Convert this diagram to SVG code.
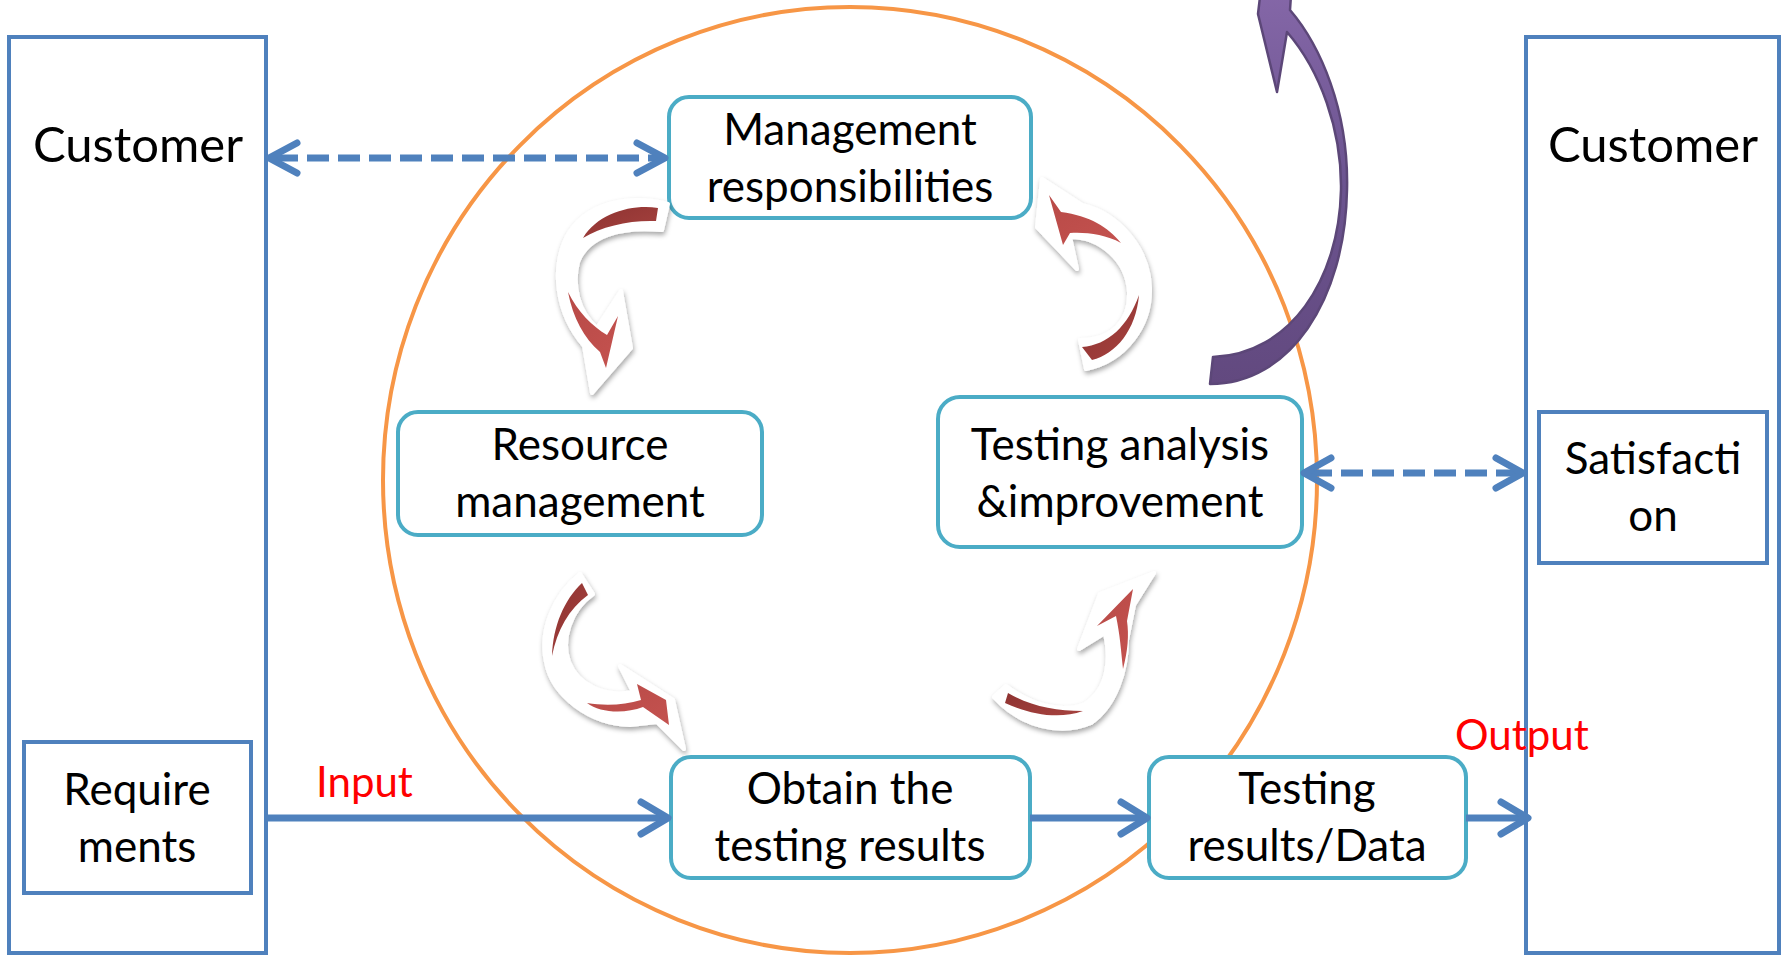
<svg xmlns="http://www.w3.org/2000/svg" width="1792" height="959" viewBox="0 0 1792 959">
  <defs>
    <style>
      .actor { fill: #ffffff; stroke: #4F81BD; stroke-width: 4; }
      .step { fill: #ffffff; stroke: #4BACC6; stroke-width: 4; }
      .lbl { font-family: Lato, "Liberation Sans", sans-serif; font-size: 44px; fill: #000000; text-anchor: middle; }
      .big { font-size: 49px; }
      .io { font-family: Lato, "Liberation Sans", sans-serif; font-size: 42px; fill: #FF0000; }
      .flow { fill: none; stroke: #4F81BD; stroke-width: 7; }
      .dash { stroke-dasharray: 22 9; }
      .head { fill: none; stroke: #4F81BD; stroke-width: 7; stroke-linecap: round; stroke-linejoin: round; }
      .swoosh { fill: #ffffff; stroke: #ffffff; stroke-width: 4; stroke-linejoin: round; filter: url(#soft); }
      .tail { fill: url(#redDark); }
      .tip { fill: url(#redLight); }
    </style>
    <filter id="soft" x="-30%" y="-30%" width="160%" height="160%">
      <feDropShadow dx="1" dy="3" stdDeviation="2.5" flood-color="#000000" flood-opacity="0.35"/>
    </filter>
    <linearGradient id="redDark" x1="0" y1="0" x2="1" y2="1">
      <stop offset="0" stop-color="#8E3331"/>
      <stop offset="1" stop-color="#A6423F"/>
    </linearGradient>
    <linearGradient id="redLight" x1="0" y1="0" x2="1" y2="1">
      <stop offset="0" stop-color="#B84A47"/>
      <stop offset="1" stop-color="#C4524F"/>
    </linearGradient>
    <linearGradient id="purple" x1="0" y1="0" x2="0" y2="1">
      <stop offset="0" stop-color="#8668A9"/>
      <stop offset="0.5" stop-color="#6C5490"/>
      <stop offset="1" stop-color="#62497F"/>
    </linearGradient>
  </defs>

  <rect width="1792" height="959" fill="#ffffff"/>

  <!-- outer process loop -->
  <ellipse id="loop" cx="850" cy="480" rx="467" ry="473" fill="none" stroke="#F79646" stroke-width="4"/>

  <!-- customer columns -->
  <g id="customer-left">
    <rect class="actor" x="9" y="37" width="257" height="916"/>
    <text class="lbl big" x="138" y="162">Customer</text>
  </g>
  <g id="requirements">
    <rect class="actor" x="24" y="742" width="227" height="151"/>
    <text class="lbl" x="137" y="805">Require</text>
    <text class="lbl" x="137" y="862">ments</text>
  </g>
  <g id="customer-right">
    <rect class="actor" x="1526" y="37" width="253" height="916"/>
    <text class="lbl big" x="1653" y="162">Customer</text>
  </g>
  <g id="satisfaction">
    <rect class="actor" x="1539" y="412" width="228" height="151"/>
    <text class="lbl" x="1653" y="474">Satisfacti</text>
    <text class="lbl" x="1653" y="531">on</text>
  </g>

  <!-- process steps -->
  <g id="management">
    <rect class="step" x="669" y="97" width="362" height="121" rx="20"/>
    <text class="lbl" x="850" y="145">Management</text>
    <text class="lbl" x="850" y="202">responsibilities</text>
  </g>
  <g id="resource">
    <rect class="step" x="398" y="412" width="364" height="123" rx="20"/>
    <text class="lbl" x="580" y="460">Resource</text>
    <text class="lbl" x="580" y="517">management</text>
  </g>
  <g id="analysis">
    <rect class="step" x="938" y="397" width="364" height="150" rx="22"/>
    <text class="lbl" x="1120" y="460">Testing analysis</text>
    <text class="lbl" x="1120" y="517">&amp;improvement</text>
  </g>
  <g id="obtain">
    <rect class="step" x="671" y="757" width="359" height="121" rx="20"/>
    <text class="lbl" x="850" y="804">Obtain the</text>
    <text class="lbl" x="850" y="861">testing results</text>
  </g>
  <g id="results">
    <rect class="step" x="1149" y="757" width="317" height="121" rx="20"/>
    <text class="lbl" x="1307" y="804">Testing</text>
    <text class="lbl" x="1307" y="861">results/Data</text>
  </g>

  <!-- connectors -->
  <g id="connectors">
    <line class="flow dash" x1="276" y1="158" x2="660" y2="158"/>
    <polyline class="head" points="297,143 269,158 297,173"/>
    <polyline class="head" points="637,143 665,158 637,173"/>

    <line class="flow dash" x1="1310" y1="473" x2="1518" y2="473"/>
    <polyline class="head" points="1331,458 1304,473 1331,488"/>
    <polyline class="head" points="1496,458 1523,473 1496,488"/>

    <line class="flow" x1="266" y1="818" x2="667" y2="818"/>
    <polyline class="head" points="641,802 668,818 641,834"/>
    <line class="flow" x1="1030" y1="818" x2="1145" y2="818"/>
    <polyline class="head" points="1121,802 1147,818 1121,834"/>
    <line class="flow" x1="1466" y1="818" x2="1526" y2="818"/>
    <polyline class="head" points="1501,802 1528,818 1501,834"/>

    <!-- cycle arrows -->
    <g id="cycle-1">
      <path class="swoosh" d="M668,204 C630,194 585,202 566,238 C552,268 555,312 584,346 L592,393 L631,348 L621,291 L597,328 C578,312 572,285 578,262 C588,236 620,226 662,230 Z"/>
      <path class="tail" d="M658,208 C632,204 598,213 583,238 C602,226 630,220 656,221 Z"/>
      <path class="tip" d="M568,292 C573,318 584,338 600,352 L606,368 L618,316 L607,335 C592,326 578,312 568,292 Z"/>
    </g>
    <g id="cycle-2">
      <path class="swoosh" d="M1080,340 L1086,369 C1126,361 1151,325 1150,288 C1149,250 1120,214 1082,205 L1042,179 L1037,227 L1077,269 L1070,237 C1100,237 1127,260 1129,292 C1130,321 1112,340 1080,340 Z"/>
      <path class="tail" d="M1082,347 C1108,345 1128,326 1139,295 C1136,330 1116,354 1092,360 Z"/>
      <path class="tip" d="M1049,195 L1063,245 L1070,233 C1085,232 1105,234 1121,243 C1108,227 1090,216 1061,212 Z"/>
    </g>
    <g id="cycle-3">
      <path class="swoosh" d="M580,574 C554,595 539,630 546,662 C552,696 590,724 630,725 L657,722 L684,749 L673,700 L620,666 L633,692 C605,698 578,685 569,662 C561,640 570,610 593,594 Z"/>
      <path class="tail" d="M582,583 C564,600 553,626 552,656 C557,630 569,609 588,595 Z"/>
      <path class="tip" d="M587,703 C600,713 625,714 643,707 L669,725 L666,700 L637,684 L641,700 C625,705 605,706 587,703 Z"/>
    </g>
    <g id="cycle-4">
      <path class="swoosh" d="M994,697 C1020,726 1060,736 1091,723 C1116,706 1127,670 1127,640 L1134,605 L1154,573 L1100,594 L1079,649 L1105,633 C1111,660 1108,689 1085,704 C1060,714 1030,704 1006,686 Z"/>
      <path class="tail" d="M1008,693 C1030,706 1055,711 1083,711 C1058,720 1030,714 1005,703 Z"/>
      <path class="tip" d="M1123,669 C1128,650 1129,635 1127,621 L1133,589 L1097,626 L1116,616 C1120,635 1121,650 1123,669 Z"/>
    </g>

    <!-- improvement feedback arrow -->
    <path id="feedback" d="M1210,384 C1290,384 1345,300 1347,190 C1349,110 1320,45 1290,10 L1292,-20 L1262,-20 L1258,14 L1277,92 L1287,32 C1320,70 1342,130 1341,190 C1339,280 1290,354 1213,357 Z" fill="url(#purple)" stroke="#5C4778" stroke-width="2.5" stroke-linejoin="round"/>
  </g>

  <text class="io" x="316" y="797">Input</text>
  <text class="io" x="1455" y="750">Output</text>
</svg>
